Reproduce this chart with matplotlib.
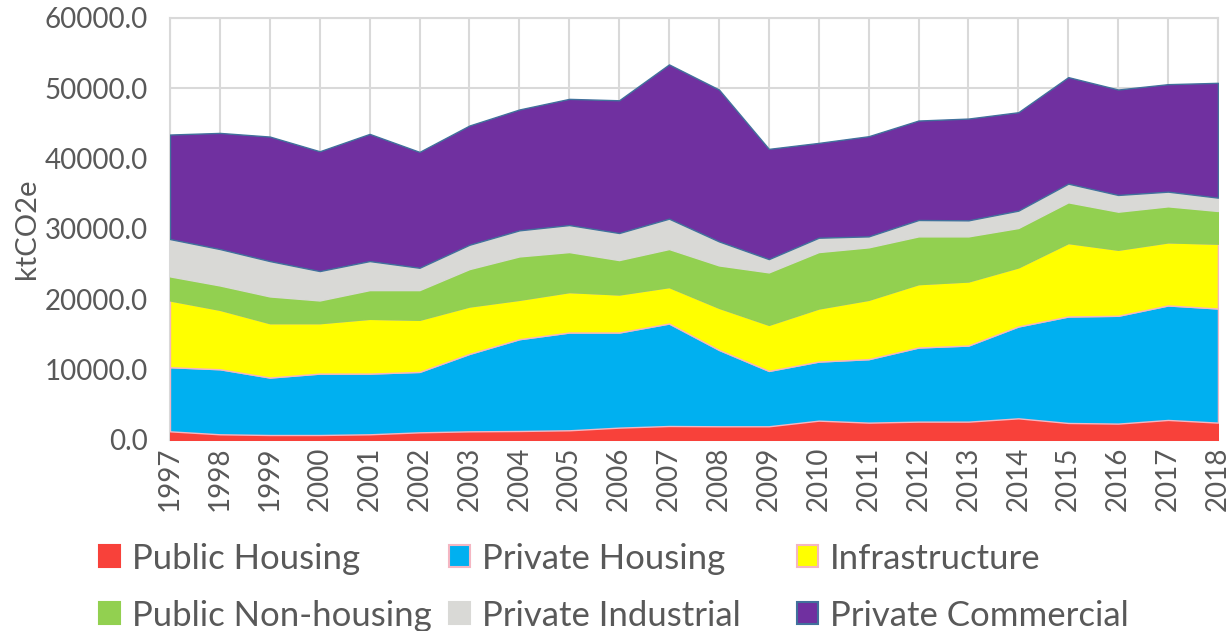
import matplotlib.pyplot as plt
import numpy as np
from matplotlib.patches import Patch

plt.rcParams['font.family'] = ['Lato', 'DejaVu Sans']

years = list(range(1997, 2019))

# ktCO2e per sector
public_housing = [1230, 810, 710, 710, 810, 1090, 1230, 1280, 1380, 1760, 1990,
                  1950, 1950, 2750, 2470, 2610, 2610, 3080, 2420, 2330, 2850, 2470]
private_housing = [9120, 9250, 8170, 8730, 8630, 8590, 11010, 13050, 13900, 13520, 14570,
                   10860, 7870, 8400, 9020, 10540, 10820, 13060, 15140, 15330, 16280, 16230]
infrastructure = [9490, 8450, 7730, 7170, 7790, 7410, 6740, 5600, 5750, 5410, 5180,
                  5980, 6550, 7550, 8440, 9010, 9110, 8400, 10440, 9390, 8970, 9210]
public_non_housing = [3420, 3460, 3800, 3230, 4080, 4220, 5320, 6170, 5690, 4890, 5410,
                      6030, 7460, 8020, 7460, 6790, 6410, 5600, 5790, 5410, 5120, 4650]
private_industrial = [5310, 5180, 5030, 4180, 4130, 3180, 3460, 3710, 3840, 3850, 4320,
                      3420, 1890, 2040, 1560, 2330, 2280, 2470, 2660, 2380, 2090, 1900]
private_commercial = [14860, 16510, 17700, 17030, 18080, 16470, 16950, 17180, 17940, 18870, 21930,
                      21590, 15670, 13480, 14240, 14140, 14470, 13990, 15140, 14990, 15280, 16320]

labels = ['Public Housing', 'Private Housing', 'Infrastructure',
          'Public Non-housing', 'Private Industrial', 'Private Commercial']
colors = ['#F8413A', '#00B0F0', '#FFFF00', '#92D050', '#D9D9D6', '#7030A0']
edges = ['#F8413A', '#F4B6C2', '#F4B6C2', '#92D050', '#D9D9D6', '#41719C']

series = [public_housing, private_housing, infrastructure,
          public_non_housing, private_industrial, private_commercial]

fig = plt.figure(figsize=(12.3, 6.31), dpi=100)
ax = fig.add_axes([0.1382, 0.3027, 0.8520, 0.6688])

polys = ax.stackplot(years, *series, colors=colors, zorder=3)
for p, ec in zip(polys, edges):
    p.set_edgecolor(ec)
    p.set_linewidth(1.0)

ax.set_xlim(1997, 2018)
ax.set_ylim(0, 60000)
ax.set_xticks(years)
ax.set_xticklabels([str(y) for y in years], rotation=90, fontsize=20, color='#595959')
ax.set_yticks(np.arange(0, 60001, 10000))
ax.set_yticklabels([f'{v:.1f}' for v in np.arange(0, 60001, 10000)], fontsize=20, color='#595959')
ax.tick_params(axis='y', length=0, pad=16)
ax.tick_params(axis='x', length=0, pad=5)
ax.set_ylabel('ktCO2e', fontsize=21, color='#595959', labelpad=3)

ax.grid(True, color='#D9D9D9', linewidth=1.5, zorder=0)
ax.set_axisbelow(True)
for s in ax.spines.values():
    s.set_color('#D9D9D9')
    s.set_linewidth(1.5)

# legend: three evenly placed columns, two rows
handles = [Patch(facecolor=c, edgecolor=e, linewidth=1.5) for c, e in zip(colors, edges)]
col_x = [99 / 1230, 449 / 1230, 797 / 1230]
for c in range(3):
    fig.legend([handles[c], handles[c + 3]], [labels[c], labels[c + 3]],
               loc='upper left', bbox_to_anchor=(col_x[c], 0.140), ncol=1,
               frameon=False, fontsize=25, labelcolor='#595959', borderpad=0,
               borderaxespad=0, handlelength=0.6, handleheight=0.6,
               handletextpad=0.35, labelspacing=0.72)

fig.savefig('out.png', dpi=100)
